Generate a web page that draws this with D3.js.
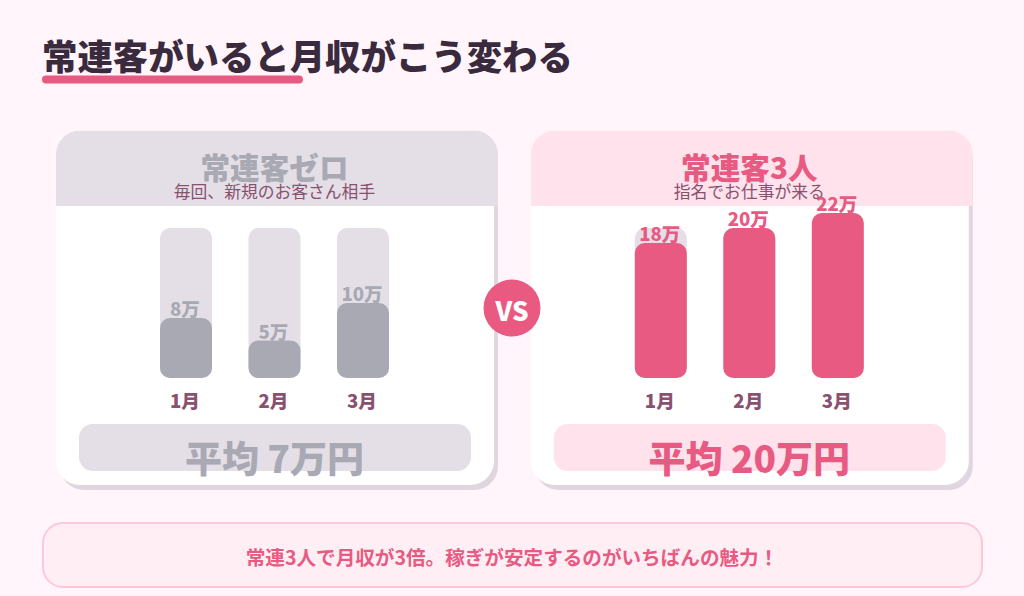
<!DOCTYPE html>
<html><head><meta charset="utf-8">
<script src="https://cdn.jsdelivr.net/npm/d3@7"></script>
<style>html,body{margin:0;padding:0;background:#fff5fa}svg{display:block}text{font-family:"Noto Sans CJK JP","Noto Sans",sans-serif}</style>
</head><body><svg id="c" width="1024" height="596"></svg>
<script>
const months = ["1月","2月","3月"];
const zeroValues = [8,5,10];
const threeValues = [18,20,22];
const trackMax = 20;
const titleText = "常連客がいると月収がこう変わる";
const footerText = "常連3人で月収が3倍。稼ぎが安定するのがいちばんの魅力\uFF01";
const panels = [
 {x:56,title:"常連客ゼロ",sub:"毎回、新規のお客さん相手",vals:zeroValues,avg:"平均 7万円",head:"#e4dfe7",bar:"#a9a9b3",text:"#a9a9b3"},
 {x:530.8,title:"常連客3人",sub:"指名でお仕事が来る",vals:threeValues,avg:"平均 20万円",head:"#ffe2eb",bar:"#e85a82",text:"#e85a82"}
];
const svg=d3.select("#c");
svg.append("rect").attr("width",1024).attr("height",596).attr("fill","#fff5fa");
svg.append("text").attr("x",42).attr("y",70).attr("font-size",35.4).attr("font-weight",900).attr("fill","#3a2a3e").text(titleText);
svg.append("rect").attr("x",42).attr("y",75.5).attr("width",261).attr("height",8).attr("rx",4).attr("fill","#e85a82");
const y=d3.scaleLinear().domain([0,trackMax]).range([378,228]);
const W=438,T=130.5,H=354.5,R=24,HH=75.5;
panels.forEach((p,i)=>{
 const g=svg.append("g").attr("transform",`translate(${p.x},0)`);
 g.append("rect").attr("x",4).attr("y",T+5).attr("width",W).attr("height",H).attr("rx",R).attr("fill","#dfd6e0");
 g.append("rect").attr("x",0).attr("y",T).attr("width",W).attr("height",H).attr("rx",R).attr("fill","#fff");
 const cid="clip"+i;
 g.append("clipPath").attr("id",cid).append("rect").attr("x",0).attr("y",T).attr("width",W+4).attr("height",H).attr("rx",R);
 g.append("rect").attr("clip-path",`url(#${cid})`).attr("x",0).attr("y",T).attr("width",W+4).attr("height",HH).attr("fill",p.head);
 g.append("text").attr("x",218.5).attr("y",179).attr("text-anchor","middle").attr("font-size",29.6).attr("font-weight",900).attr("fill",p.text).text(p.title);
 g.append("text").attr("x",218.5).attr("y",198).attr("text-anchor","middle").attr("font-size",16.8).attr("font-weight",400).attr("fill","#8a5070").text(p.sub);
 const x=d3.scaleBand().domain(months).range([104,333]).paddingInner(36.5/88.5).paddingOuter(0);
 g.selectAll(".track").data(months).join("rect").attr("x",d=>x(d)).attr("y",y(trackMax)).attr("width",x.bandwidth()).attr("height",y(0)-y(trackMax)).attr("rx",10).attr("fill","#e4dfe7");
 const rows=months.map((m,j)=>({m,v:p.vals[j]}));
 g.selectAll(".bar").data(rows).join("rect").attr("x",d=>x(d.m)).attr("y",d=>y(d.v)).attr("width",x.bandwidth()).attr("height",d=>y(0)-y(d.v)).attr("rx",10).attr("fill",p.bar);
 g.selectAll(".val").data(rows).join("text").attr("x",d=>x(d.m)+x.bandwidth()/2-1).attr("y",d=>y(d.v)-2).attr("text-anchor","middle").attr("font-size",18.6).attr("font-weight",900).attr("fill",p.text).text(d=>d.v+"万");
 const ax=g.append("g").attr("transform","translate(-1,378)").call(d3.axisBottom(x).tickSize(0).tickPadding(17));
 ax.select(".domain").remove();
 ax.selectAll("text").attr("font-size",18.6).attr("font-weight",900).attr("fill","#8a5070").attr("font-family",'"Noto Sans CJK JP"');
 g.append("rect").attr("x",23).attr("y",424).attr("width",392).attr("height",47).attr("rx",14).attr("fill",p.head);
 g.append("text").attr("x",218.5).attr("y",473).attr("text-anchor","middle").attr("font-size",37).attr("font-weight",900).attr("fill",p.text).text(p.avg);
});
svg.append("circle").attr("cx",512).attr("cy",308).attr("r",28.5).attr("fill","#e85a82");
svg.append("text").attr("x",512).attr("y",321).attr("text-anchor","middle").attr("font-size",26).attr("font-weight",900).attr("fill","#fff").text("VS");
svg.append("rect").attr("x",43).attr("y",523).attr("width",939).attr("height",64).attr("rx",20).attr("fill","#ffeef4").attr("stroke","#ffc8d8").attr("stroke-width",2);
svg.append("text").attr("x",512).attr("y",565).attr("text-anchor","middle").attr("font-size",19.6).attr("font-weight",700).attr("fill","#e85a82").text(footerText);
</script></body></html>
